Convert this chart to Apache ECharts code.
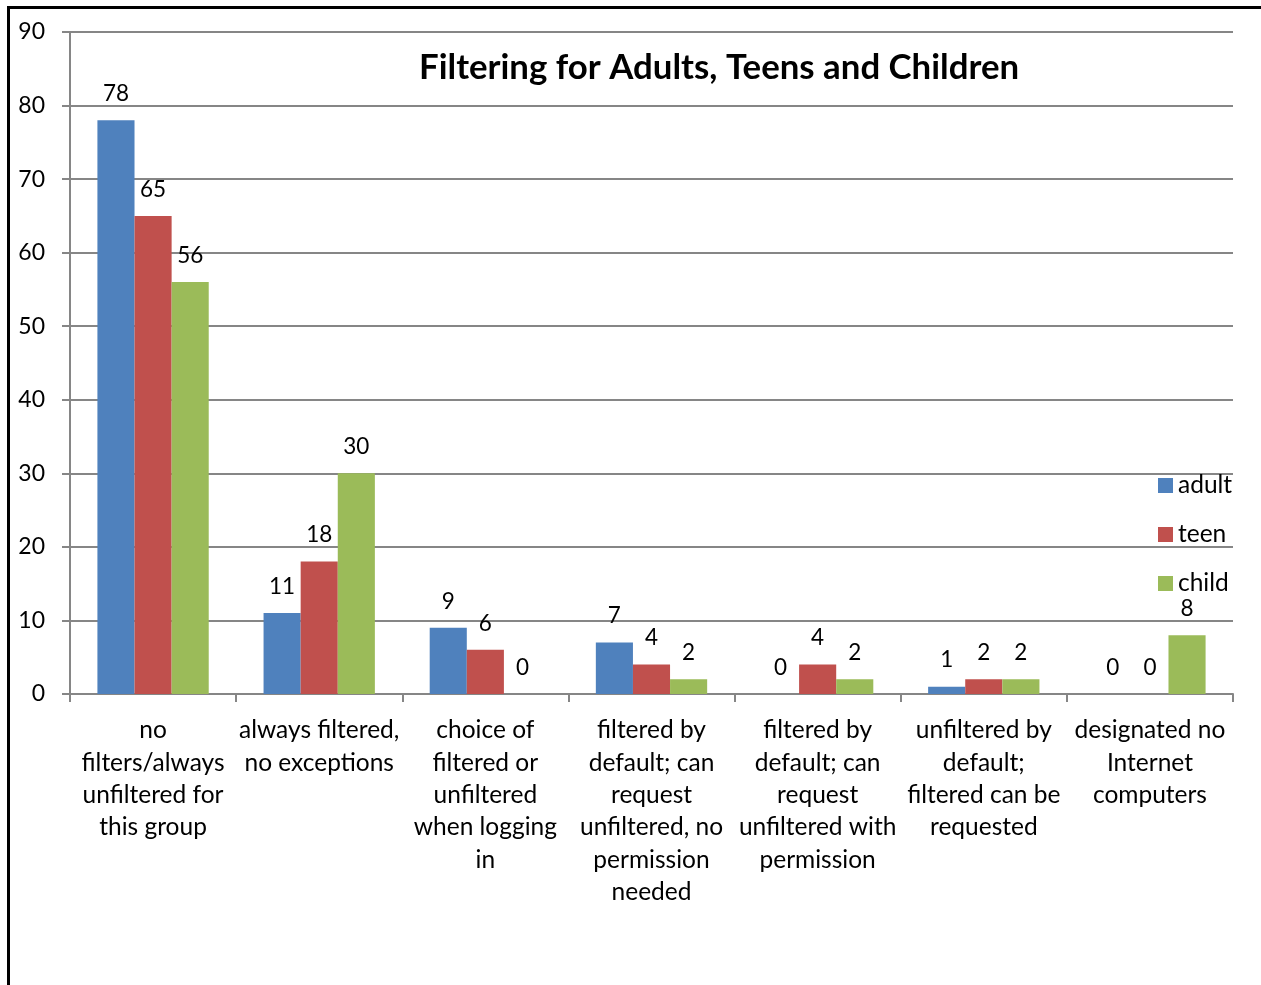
<!DOCTYPE html>
<html>
<head>
<meta charset="utf-8">
<script src="https://cdn.jsdelivr.net/npm/echarts@6/dist/echarts.min.js"></script>
<style>
  html, body { margin: 0; padding: 0; background: #fff; }
  #chart { width: 1261px; height: 985px; }
</style>
</head>
<body>
<div id="chart"></div>
<script>
const categories = [
    "no\nfilters/always\nunfiltered for\nthis group",
    "always filtered,\nno exceptions",
    "choice of\nfiltered or\nunfiltered\nwhen logging\nin",
    "filtered by\ndefault; can\nrequest\nunfiltered, no\npermission\nneeded",
    "filtered by\ndefault; can\nrequest\nunfiltered with\npermission",
    "unfiltered by\ndefault;\nfiltered can be\nrequested",
    "designated no\nInternet\ncomputers"
];
const adult = [78, 11, 9, 7, 0, 1, 0];
const teen = [65, 18, 6, 4, 4, 2, 0];
const child = [56, 30, 0, 2, 2, 2, 8];

const font = "Lato, 'Open Sans', sans-serif";
const chart = echarts.init(document.getElementById("chart"));

const barLabel = {
    show: true,
    position: "top",
    distance: 15,
    color: "#000",
    fontSize: 22.5,
    fontFamily: font
};

chart.setOption({
    backgroundColor: "#fff",
    animation: false,
    title: {
        text: "Filtering for Adults, Teens and Children",
        left: 414,
        top: 45,
        textStyle: { fontSize: 34.8, fontWeight: "bold", color: "#000", fontFamily: font }
    },
    legend: {
        orient: "vertical",
        left: 1153,
        top: 468,
        itemWidth: 15,
        itemHeight: 15,
        itemGap: 24,
        icon: "rect",
        textStyle: { fontSize: 24.5, color: "#000", fontFamily: font },
        data: ["adult", "teen", "child"]
    },
    graphic: [{
        type: "rect",
        shape: { x: 8.5, y: 7.5, width: 1300, height: 1000 },
        style: { fill: "none", stroke: "#000", lineWidth: 3 },
        silent: true
    }],
    grid: { left: 70, right: 28, top: 32, bottom: 291 },
    xAxis: {
        type: "category",
        data: categories,
        axisLine: { lineStyle: { color: "#868686", width: 2 } },
        axisTick: { show: true, length: 8, lineStyle: { color: "#868686", width: 2 } },
        axisLabel: {
            interval: 0,
            margin: 20,
            fontSize: 24.5,
            lineHeight: 32.4,
            color: "#000",
            fontFamily: font,
            align: "center"
        }
    },
    yAxis: {
        type: "value",
        min: 0,
        max: 90,
        interval: 10,
        axisLine: { show: true, lineStyle: { color: "#868686", width: 2 } },
        axisTick: { show: true, length: 8, lineStyle: { color: "#868686", width: 2 } },
        axisLabel: { margin: 25, fontSize: 23, color: "#000", fontFamily: font },
        splitLine: { lineStyle: { color: "#868686", width: 2 } }
    },
    series: [
        { name: "adult", type: "bar", data: adult, itemStyle: { color: "#4F81BD" },
          barGap: "0%", barCategoryGap: "33%", label: barLabel },
        { name: "teen", type: "bar", data: teen, itemStyle: { color: "#C0504D" },
          barGap: "0%", barCategoryGap: "33%", label: barLabel },
        { name: "child", type: "bar", data: child, itemStyle: { color: "#9BBB59" },
          barGap: "0%", barCategoryGap: "33%", label: barLabel }
    ]
});
</script>
</body>
</html>
